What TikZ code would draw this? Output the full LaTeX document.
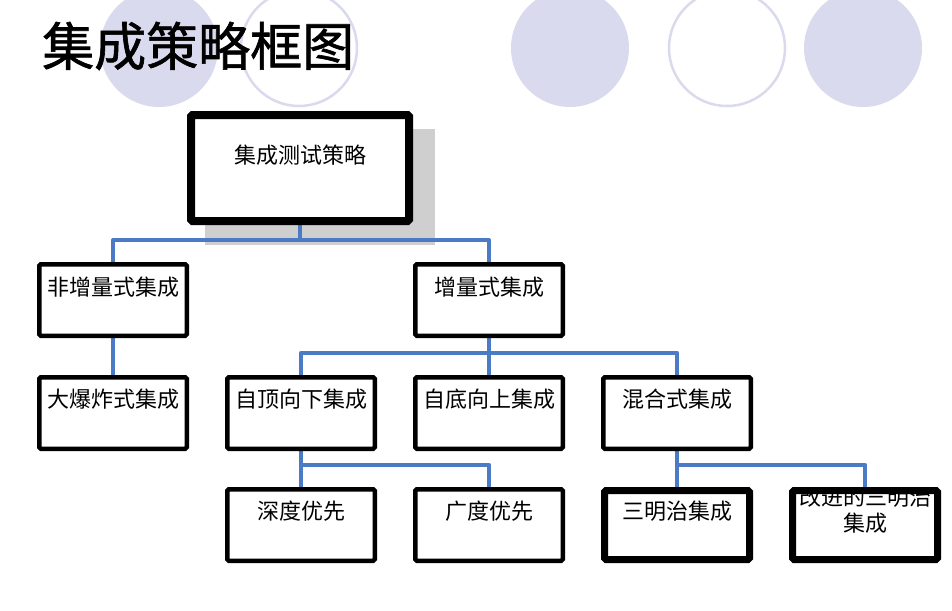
\documentclass[tikz,border=0pt]{standalone}
\usepackage{fontspec}
\newfontfamily\cjk{Noto Sans CJK SC}
\newfontfamily\cjktitle[FakeBold=1.2]{Noto Sans CJK SC}
\usetikzlibrary{backgrounds}
\definecolor{lav}{RGB}{218,218,238}
\definecolor{blueline}{RGB}{74,123,196}
\definecolor{shadowgray}{RGB}{207,207,207}
\begin{document}
\begin{tikzpicture}[x=1pt,y=-1pt,
  box/.style={draw=black,line width=4.5pt,fill=white,minimum width=147.5pt,minimum height=71.5pt,inner sep=0pt,outer sep=0pt,rounded corners=1.5pt},
  thickbox/.style={box,line width=7pt,minimum width=145pt,minimum height=69pt},
  topbox/.style={box,line width=8pt,minimum width=218pt,minimum height=106pt},
  lbl/.style={font=\cjk\fontsize{22}{26}\selectfont,inner sep=0pt,anchor=center},
  conn/.style={draw=blueline,line width=4pt,line join=round},
  ]
\useasboundingbox (0,0) rectangle (952,610);
% decorative circles
\fill[lav] (159,48) circle[radius=59pt];
\draw[lav,line width=2.5pt] (299,48) circle[radius=58pt];
\fill[lav] (570,48) circle[radius=59pt];
\draw[lav,line width=2.5pt] (727,48) circle[radius=58pt];
\fill[lav] (863,48) circle[radius=59pt];
% title
\node[anchor=west,font=\cjktitle\fontsize{52}{60}\selectfont,inner sep=0pt] (title) at (42,46) {集成策略框图};
% boxes
\node[topbox] (top) at (300,168) {};
\node[lbl] (topt) at (300,155) {集成测试策略};
\node[box] (fz) at (113,300) {};
\node[lbl] (fzt) at (113,287) {非增量式集成};
\node[box] (zl) at (489,300) {};
\node[lbl] (zlt) at (489,287) {增量式集成};
\node[box] (dbz) at (113,413) {};
\node[lbl] (dbzt) at (113,399) {大爆炸式集成};
\node[box] (zd) at (301,413) {};
\node[lbl] (zdt) at (301,399) {自顶向下集成};
\node[box] (zs) at (489,413) {};
\node[lbl] (zst) at (489,399) {自底向上集成};
\node[box] (hh) at (677,413) {};
\node[lbl] (hht) at (677,399) {混合式集成};
\node[box] (sd) at (301,525) {};
\node[lbl] (sdt) at (301,511) {深度优先};
\node[box] (gd) at (489,525) {};
\node[lbl] (gdt) at (489,511) {广度优先};
\node[thickbox] (smz) at (677,525) {};
\node[lbl] (smzt) at (677,511) {三明治集成};
\node[thickbox] (gj) at (865,525) {};
\begin{scope}
\clip ([xshift=3.5pt,yshift=-3.5pt]gj.north west) rectangle ([xshift=-3.5pt,yshift=3.5pt]gj.south east);
\node[lbl,align=center] (gjt) at (865,510) {改进的三明治\\集成};
\end{scope}
% shadow and connectors behind boxes
\begin{pgfonlayer}{background}
\fill[shadowgray] (205,129) rectangle (435,245);
\draw[conn] (top.south) -- ++(0,19) -| (fz.north);
\draw[conn] (top.south) -- ++(0,19) -| (zl.north);
\draw[conn] (fz.south) -- (dbz.north);
\draw[conn] (zl.south) -- ++(0,17) -| (zd.north);
\draw[conn] (zl.south) -- (zs.north);
\draw[conn] (zl.south) -- ++(0,17) -| (hh.north);
\draw[conn] (zd.south) -- ++(0,16) -| (gd.north);
\draw[conn] (zd.south) -- (sd.north);
\draw[conn] (hh.south) -- ++(0,16) -| (gj.north);
\draw[conn] (hh.south) -- (smz.north);
\end{pgfonlayer}
\end{tikzpicture}
\end{document}
